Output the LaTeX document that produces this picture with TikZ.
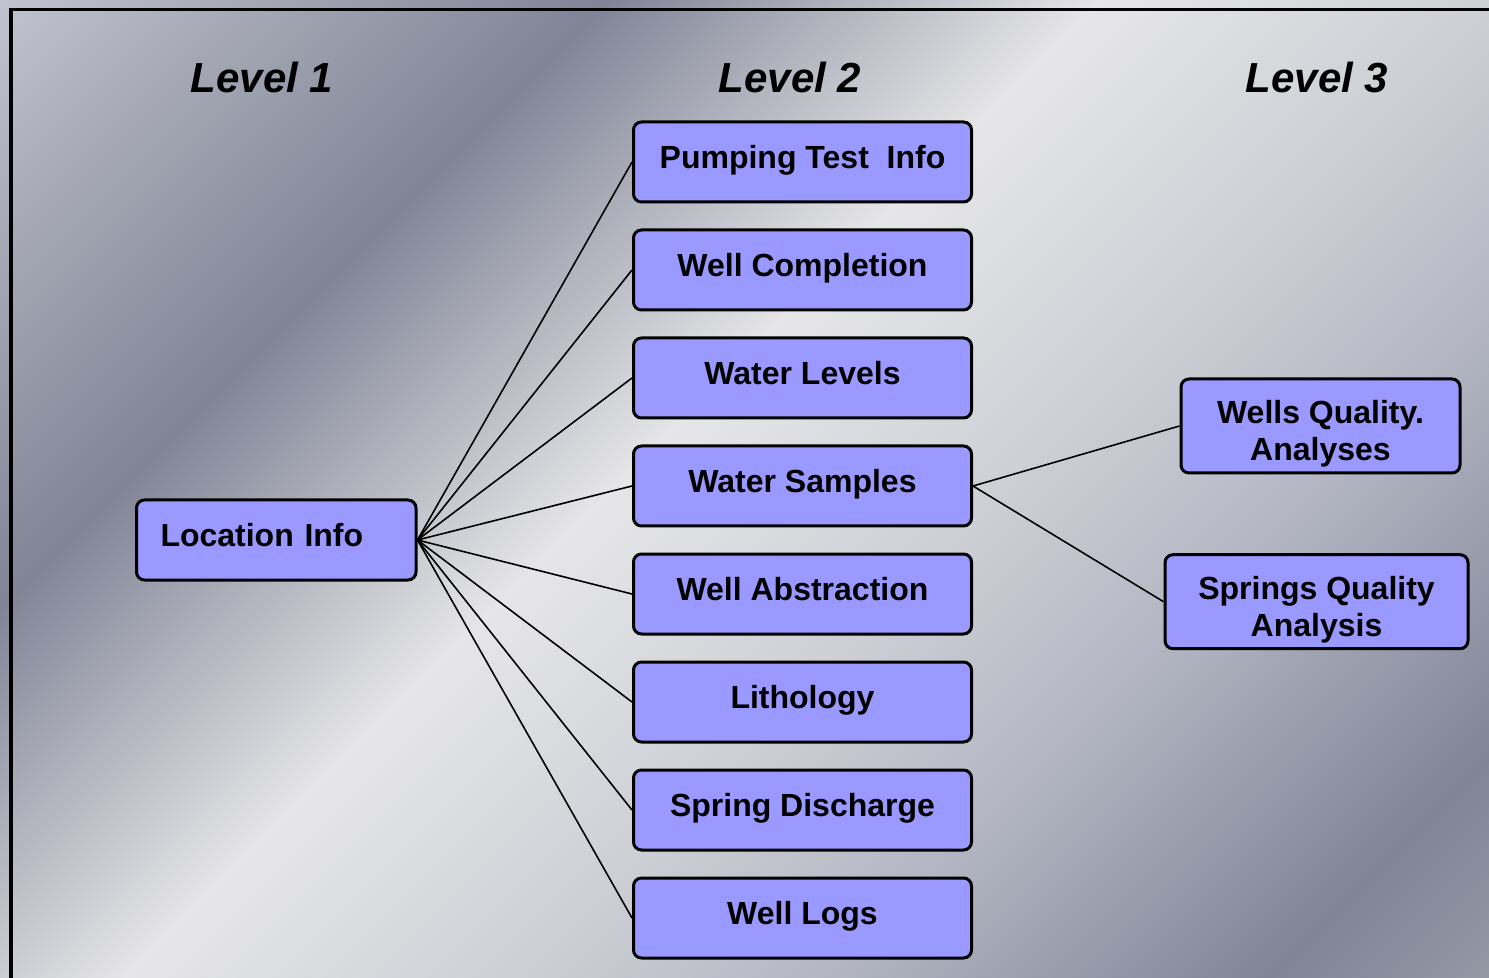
\documentclass[tikz,border=0pt]{standalone}
\usepackage{fontspec}
\setmainfont{Liberation Sans}
\usepackage{tikz}
\definecolor{bleu}{RGB}{153, 153, 255}
\definecolor{m0}{RGB}{192, 195, 205}
\definecolor{m1}{RGB}{165, 168, 180}
\definecolor{m2}{RGB}{128, 132, 150}
\definecolor{m3}{RGB}{230, 230, 232}
\definecolor{m4}{RGB}{205, 207, 213}
\definecolor{m5}{RGB}{180, 183, 195}
\definecolor{m6}{RGB}{128, 132, 150}
\definecolor{m7}{RGB}{148, 151, 164}
\pgfdeclarehorizontalshading{metal}{100bp}{color(0bp)=(m0); color(25.8bp)=(m0);
  color(30.7bp)=(m1); color(37.6bp)=(m2); color(47.4bp)=(m3); color(55.2bp)=(m4);
  color(61.1bp)=(m5); color(70bp)=(m6); color(74.2bp)=(m7); color(100bp)=(m7)}
\tikzset{
  boite/.style={draw=black, line width=1.5pt, fill=bleu, rounded corners=4pt,
    inner ysep=0pt, font=\bfseries\fontsize{16}{18.4}\selectfont},
  niv2/.style={boite, minimum width=169pt, text height=23.25pt, text depth=16.75pt},
  niv3/.style={boite, minimum height=47pt, align=center},
  niveau/.style={anchor=base, font=\bfseries\itshape\fontsize{21}{25}\selectfont},
  lien/.style={line width=0.8pt}
}

\begin{document}
\begin{tikzpicture}[x=0.5pt,y=-0.5pt] % coordonnees en pixels
				\useasboundingbox (0,0) rectangle (1489,978);
				\begin{scope}
					\clip (0,0) rectangle (1489,978);
					\shade[shading=metal, shading angle=-45] (-155.5,-411) rectangle (1644.5,1389); % le fond
					\draw[line width=1.9pt] (11,9.5) rectangle (1700,1200); % le cadre
				\end{scope}
				\node[niveau] (t1) at (262,92.5) {Level 1};
				\node[niveau] (t2) at (790,92.5) {Level 2};
				\node[niveau] (t3) at (1317,92.5) {Level 3};
				\node[boite, text width=115.75pt, inner xsep=12pt, align=left,
					text height=23pt, text depth=17pt] (loc) at (276.25,540) {Location Info};
				\foreach \i/\t in {1/Pumping Test\ \ Info, 2/Well Completion, 3/Water Levels,
					4/Water Samples, 5/Well Abstraction, 6/Lithology, 7/Spring Discharge, 8/Well Logs}{
					\node[niv2] (b\i) at (802.5,{54+108*\i}) {\t};
					\draw[lien] (loc.east) -- (b\i.west);}
				\node[niv3, minimum width=139.5pt] (wq) at (1320.5,426)
					{\rule{0pt}{19.7pt}Wells Quality.\\Analyses};
				\node[niv3, minimum width=151.5pt] (sq) at (1316.5,601.7)
					{\rule{0pt}{19.7pt}Springs Quality\\Analysis};
				\draw[lien] (b4.east) -- (wq.west);
				\draw[lien] (b4.east) -- (sq.west);
			\end{tikzpicture}
\end{document}
